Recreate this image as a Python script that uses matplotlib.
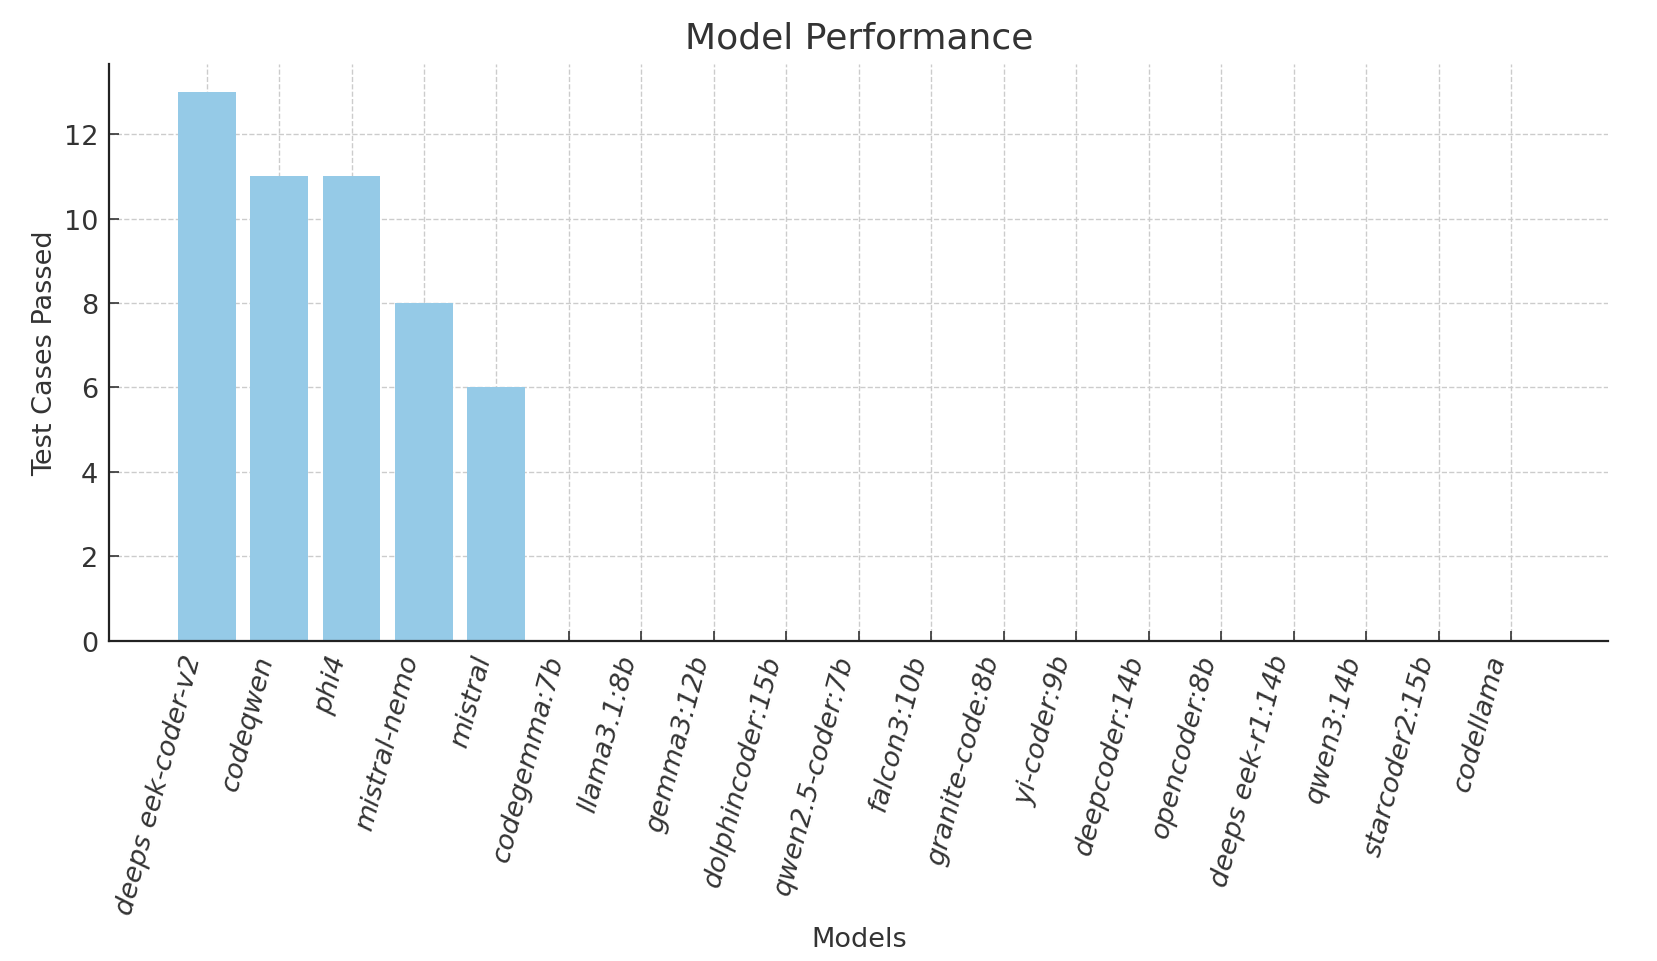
import matplotlib
matplotlib.use('Agg')
import matplotlib.pyplot as plt

# Datos del gráfico
models = ['deeps eek-coder-v2', 'codeqwen', 'phi4', 'mistral-nemo', 'mistral',
          'codegemma:7b', 'llama3.1:8b', 'gemma3:12b', 'dolphincoder:15b',
          'qwen2.5-coder:7b', 'falcon3:10b', 'granite-code:8b', 'yi-coder:9b',
          'deepcoder:14b', 'opencoder:8b', 'deeps eek-r1:14b', 'qwen3:14b',
          'starcoder2:15b', 'codellama']
passed = [13, 11, 11, 8, 6, 0, 0, 0, 0, 0, 0, 0, 0, 0, 0, 0, 0, 0, 0]

text_color = '#333333'

fig, ax = plt.subplots(figsize=(16.58, 9.62), dpi=100)

ax.bar(models, passed, color='#95CAE7', width=0.8, zorder=2)

ax.set_title('Model Performance', fontsize=26, color=text_color, pad=12)
ax.set_xlabel('Models', fontsize=19.5, color=text_color, labelpad=6)
ax.set_ylabel('Test Cases Passed', fontsize=19.5, color=text_color, labelpad=4)

ax.tick_params(axis='both', direction='in', length=7, width=1.2,
               colors=text_color, labelsize=19.5, pad=8)
plt.setp(ax.get_xticklabels(), rotation=75, ha='right', style='oblique')

ax.grid(True, linestyle='--', color='#cccccc', linewidth=1, zorder=0)
ax.set_axisbelow(True)

for s in ['top', 'right']:
    ax.spines[s].set_visible(False)
for s in ['left', 'bottom']:
    ax.spines[s].set_linewidth(1.6)
    ax.spines[s].set_color('#222222')

fig.subplots_adjust(left=0.066, right=0.97, top=0.932, bottom=0.333)

fig.savefig('out.png', dpi=100)
